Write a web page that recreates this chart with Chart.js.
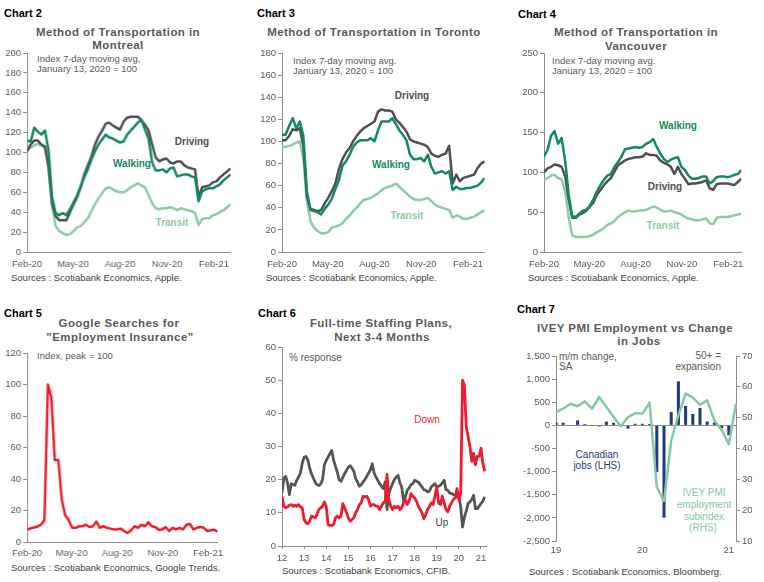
<!DOCTYPE html>
<html>
<head>
<meta charset="utf-8">
<script src="https://cdn.jsdelivr.net/npm/chart.js@4.4.1/dist/chart.umd.min.js"></script>
<style>
  body { margin: 0; background: #fff; }
  #page { position: relative; width: 764px; height: 582px; overflow: hidden; font-family: "Liberation Sans", Arial, sans-serif; }
  .box { position: absolute; }
  .t { position: absolute; white-space: nowrap; line-height: 1; }
  .c { transform: translate(-50%, -50%); }
  .l { transform: translate(0, -50%); }
  .r { transform: translate(-100%, -50%); }
  .num { font: bold 11px "Liberation Sans Narrow", "Liberation Sans", sans-serif; color: #000; }
  .ttl { font-weight: bold; font-size: 11.5px; letter-spacing: 0.45px; color: #595959; }
  .src { font-size: 9.5px; color: #404040; }
  .ann { font-size: 9.5px; color: #595959; }
  .lab { font-weight: bold; font-size: 10px; }
</style>
</head>
<body>
<div id="page">
  <!-- chart 2 -->
  <div class="t l num" style="left:4px;top:13px">Chart 2</div>
  <div class="t c ttl" style="left:118px;top:33px">Method of Transportation in</div>
  <div class="t c ttl" style="left:118px;top:46px">Montreal</div>
  <div class="t l ann" style="left:37px;top:59px">Index 7-day moving avg,</div>
  <div class="t l ann" style="left:37px;top:69px">January 13, 2020 = 100</div>
  <div class="t c lab" style="left:192px;top:142px;color:#505050">Driving</div>
  <div class="t c lab" style="left:132px;top:164px;color:#138a5b">Walking</div>
  <div class="t c lab" style="left:172px;top:223px;color:#8fcaa5">Transit</div>
  <div class="t l src" style="left:11px;top:278px">Sources : Scotiabank Economics, Apple.</div>
  <div class="box" id="w2"><canvas id="c2"></canvas></div>

  <!-- chart 3 -->
  <div class="t l num" style="left:257px;top:13px">Chart 3</div>
  <div class="t c ttl" style="left:374px;top:33px">Method of Transportation in Toronto</div>
  <div class="t l ann" style="left:293px;top:61px">Index 7-day moving avg.</div>
  <div class="t l ann" style="left:293px;top:71px">January 13, 2020 = 100</div>
  <div class="t c lab" style="left:412px;top:96px;color:#505050">Driving</div>
  <div class="t c lab" style="left:391px;top:165px;color:#138a5b">Walking</div>
  <div class="t c lab" style="left:407px;top:216px;color:#8fcaa5">Transit</div>
  <div class="t l src" style="left:266px;top:278px">Sources : Scotiabank Economics, Apple.</div>
  <div class="box" id="w3"><canvas id="c3"></canvas></div>

  <!-- chart 4 -->
  <div class="t l num" style="left:518px;top:14px">Chart 4</div>
  <div class="t c ttl" style="left:636px;top:33px">Method of Transportation in</div>
  <div class="t c ttl" style="left:636px;top:47px">Vancouver</div>
  <div class="t l ann" style="left:552px;top:61px">Index 7-day moving avg.</div>
  <div class="t l ann" style="left:552px;top:71px">January 13, 2020 = 100</div>
  <div class="t c lab" style="left:678px;top:126px;color:#138a5b">Walking</div>
  <div class="t c lab" style="left:665px;top:187px;color:#505050">Driving</div>
  <div class="t c lab" style="left:663px;top:226px;color:#8fcaa5">Transit</div>
  <div class="t l src" style="left:528px;top:278px">Sources : Scotiabank Economics, Apple.</div>
  <div class="box" id="w4"><canvas id="c4"></canvas></div>

  <!-- chart 5 -->
  <div class="t l num" style="left:4px;top:313px">Chart 5</div>
  <div class="t c ttl" style="left:119px;top:324px">Google Searches for</div>
  <div class="t c ttl" style="left:120px;top:338px">"Employment Insurance"</div>
  <div class="t l ann" style="left:37px;top:356px">Index, peak = 100</div>
  <div class="t l src" style="left:11px;top:568px">Sources : Scotiabank Economics, Google Trends.</div>
  <div class="box" id="w5"><canvas id="c5"></canvas></div>

  <!-- chart 6 -->
  <div class="t l num" style="left:258px;top:313px">Chart 6</div>
  <div class="t c ttl" style="left:381px;top:324px">Full-time Staffing Plans,</div>
  <div class="t c ttl" style="left:382px;top:338px">Next 3-4 Months</div>
  <div class="t l ann" style="left:289px;top:358px;font-size:10px">% response</div>
  <div class="t c ann" style="left:427px;top:420px;font-size:10px;color:#ee1c2e">Down</div>
  <div class="t c ann" style="left:442px;top:523px;font-size:10px;color:#404040">Up</div>
  <div class="t l src" style="left:282px;top:571px">Sources : Scotiabank Economics, CFIB.</div>
  <div class="box" id="w6"><canvas id="c6"></canvas></div>

  <!-- chart 7 -->
  <div class="t l num" style="left:517px;top:309px">Chart 7</div>
  <div class="t c ttl" style="left:635px;top:329px">IVEY PMI Employment vs Change</div>
  <div class="t c ttl" style="left:639px;top:342px">in Jobs</div>
  <div class="t l ann" style="left:559px;top:357px;font-size:10px">m/m change,</div>
  <div class="t l ann" style="left:559px;top:367px;font-size:10px">SA</div>
  <div class="t r ann" style="left:721px;top:356px;font-size:10px">50+ =</div>
  <div class="t r ann" style="left:721px;top:367px;font-size:10px">expansion</div>
  <div class="t c ann" style="left:597px;top:455px;font-size:10px;color:#1d3c78">Canadian</div>
  <div class="t c ann" style="left:597px;top:466px;font-size:10px;color:#1d3c78">jobs (LHS)</div>
  <div class="t c ann" style="left:704px;top:493px;font-size:10px;color:#86c7a0">IVEY PMI</div>
  <div class="t c ann" style="left:704px;top:505px;font-size:10px;color:#86c7a0">employment</div>
  <div class="t c ann" style="left:704px;top:517px;font-size:10px;color:#86c7a0">subindex</div>
  <div class="t c ann" style="left:703px;top:528px;font-size:10px;color:#86c7a0">(RHS)</div>
  <div class="t l src" style="left:529px;top:572px">Sources : Scotiabank Economics, Bloomberg.</div>
  <div class="box" id="w7"><canvas id="c7"></canvas></div>
</div>

<script>
// weekly readings, first point = 1 Feb 2020
const dateTicks = [0, 90, 182, 274, 366];
const dateTickLabels = ['Feb-20', 'May-20', 'Aug-20', 'Nov-20', 'Feb-21'];

const mtlDriving = [101,108,112,112,108,106,85,48,36,32,32,32,40,48,55,65,78,87,96,108,116,122,129,130,127,125,123,131,135,136,136,136,132,128,122,108,95,91,93,94,90,89,91,91,87,85,84,83,55,65,66,67,70,71,75,78,81,84];
const mtlWalking = [112,111,125,121,118,122,102,55,39,37,39,37,43,50,57,66,75,83,93,101,108,113,118,115,114,112,110,111,118,122,126,130,133,123,114,90,82,82,83,80,84,85,76,77,78,78,76,75,51,61,63,64,64,66,68,72,75,78];
const mtlTransit = [104,105,107,109,107,104,85,46,26,21,19,17,18,21,25,26,30,34,41,48,54,59,64,65,63,61,60,60,62,65,67,69,67,65,57,49,44,43,44,44,45,44,42,44,43,42,41,39,27,33,34,34,37,38,40,42,45,48];

const torDriving = [101,101,105,111,110,112,96,50,39,38,37,38,44,49,55,62,75,84,90,94,100,105,109,112,114,116,118,127,129,128,128,127,120,117,113,109,102,100,99,98,97,95,89,87,86,88,89,96,62,70,64,67,68,69,70,76,80,82];
const torWalking = [106,106,114,121,112,118,105,55,38,37,36,34,39,43,48,57,65,78,82,88,95,99,101,101,101,103,100,110,118,118,118,121,116,110,106,101,88,84,84,85,82,88,77,71,72,73,71,73,56,59,57,57,58,58,59,60,63,67];
const torTransit = [95,95,96,97,99,100,85,46,28,22,19,17,17,18,22,23,24,26,30,33,37,40,44,47,48,49,51,53,56,58,59,60,62,59,56,53,50,48,47,47,48,49,46,43,41,40,39,38,31,33,32,30,30,31,32,34,36,38];

const vanWalking = [120,128,146,152,136,143,115,72,45,44,48,52,53,58,66,76,84,91,96,98,107,113,120,129,130,131,132,131,132,136,138,142,132,124,117,113,116,118,119,107,103,96,92,92,93,95,95,86,89,94,95,95,94,95,97,98,103];
const vanDriving = [100,105,107,110,109,107,95,66,43,43,47,49,52,57,62,72,78,84,89,93,101,109,112,115,117,118,119,119,120,124,122,122,121,115,112,110,107,98,107,98,92,85,86,86,87,88,90,80,78,85,86,86,86,85,84,88,92];
const vanTransit = [91,93,96,97,93,91,76,44,21,19,19,19,19,20,22,25,27,30,34,36,39,44,47,50,52,51,51,52,52,53,55,57,56,53,51,51,52,50,49,47,44,42,41,40,40,41,42,36,35,43,44,44,44,45,46,47,48];

const googleEI = [7.8,8.7,9.2,9.8,11,14,100,92,52,52,27,17,14,9,9,10,10,11,9.5,10,13,9,10,9,8.5,8,8,8.5,7,5.7,7.4,10,9,11,10,12.5,10,9.5,7.8,8,9.5,7,9,8,9,8,11,11.5,8,9,9.5,9,7,7.5,7.8,6.5];

// monthly, Jan 2012 to Mar 2021
const staffYears = [2012, 2013, 2014, 2015, 2016, 2017, 2018, 2019, 2020, 2021];
const staffUp = [
  16,20.5,21,19,15.5,18.8,18.5,18.3,19.8,20.8,22,25,
  26.8,27,26,23.5,21.8,20.5,19.2,18.5,18.2,18.7,20,24.5,
  25.8,26.8,27.8,28.8,26,24,22.3,20,19.5,20.7,21.8,22.8,
  23.8,24.2,23.5,22.5,20.3,19.3,18,18.5,19.3,20,21,22,
  23,24.8,22,20.8,19.8,18.8,18,17.3,19.3,11,15.8,17.5,
  18.8,20,20.8,21.3,19,17.8,13.3,15,16.8,17.5,18.5,18.8,
  19.8,19.5,19.3,18.5,17.8,17,16.8,16.3,16.5,17.8,18.3,18.8,
  17.8,18,18.3,19,19.8,17,16.8,16,15.8,15.5,15.3,14.8,
  14.8,11.8,5.7,8.7,10.5,12.8,13.3,14,15.3,11.3,11.3,12,
  12.8,13.5,14.8];
const staffDown = [
  15,12,11.5,11.8,12.3,12.5,12,12.3,12,12.5,11.8,11.5,
  8,7,6.7,7.5,9,8.8,8.5,9.5,11,11.5,12,13.3,
  12,6.5,6.2,6.2,6.5,8.5,9,8.5,9,12.8,11.5,10,
  8.5,7.5,8,8.5,10,11,12.5,13,15,14.8,15,14,
  12,12.5,12.5,12,12,11,12,13,13.5,21.6,14,12,
  11,12,11.5,12,11,11.5,13,14,12.5,13.5,15.8,15,
  14.5,13.5,12,11,10,8.2,9.5,11,12,13,12.5,15,
  17.8,13,12.5,15,13,11,10.3,12,13,14,14.5,17.3,
  14,16,50,48.5,36,33,30,25.5,28,24.5,27,27,
  29.5,25,22.5];

const pmiMonths = ['Jan-19','Feb-19','Mar-19','Apr-19','May-19','Jun-19','Jul-19','Aug-19','Sep-19','Oct-19','Nov-19','Dec-19',
  'Jan-20','Feb-20','Mar-20','Apr-20','May-20','Jun-20','Jul-20','Aug-20','Sep-20','Oct-20','Nov-20','Dec-20','Jan-21','Feb-21'];
const jobsChange = [67,56,-7,107,28,-2,-24,81,54,-2,-71,35,34,30,-1011,-1994,290,953,419,246,378,84,62,-63,-213];
const iveyEmployment = [51.8,52.9,54.5,53.7,55.3,52.9,56.7,53.5,50.2,47.2,50.2,51.5,51.3,54.9,27.5,22.9,42.6,50.8,57.8,56.5,54.2,55.6,49.1,46.1,41.4,54.5];

const C = {
  driving: '#505050', walking: '#138a5b', transit: '#8fcaa5',
  red: '#ee1c2e', up: '#555555', navy: '#1d3c78', ivey: '#86c7a0', axis: '#8c8c8c'
};

Chart.defaults.font.family = '"Liberation Sans", Arial, sans-serif';
Chart.defaults.font.size = 9.5;
Chart.defaults.color = '#595959';
Chart.defaults.animation = false;
Chart.defaults.events = [];
Chart.defaults.plugins.legend.display = false;
Chart.defaults.plugins.tooltip.enabled = false;
Chart.defaults.elements.point.radius = 0;
Chart.defaults.elements.line.tension = 0;
Chart.defaults.elements.line.borderJoinStyle = 'round';

// size the wrapper so the plot area lands on l,t,r,b
function frame(id, g) {
  const wrap = document.getElementById(id);
  const pt = 8, pr = g.yr ? 0 : 6;
  wrap.style.left = (g.l - g.yw) + 'px';
  wrap.style.top = (g.t - pt) + 'px';
  wrap.style.width = (g.r - g.l + g.yw + (g.yr || 0) + pr) + 'px';
  wrap.style.height = (g.b - g.t + pt + g.xh) + 'px';
  return { top: pt, right: pr, bottom: 0, left: 0 };
}

function yAxis(g, min, max, step) {
  return {
    min: min, max: max,
    ticks: { stepSize: step, padding: 2 },
    grid: { drawOnChartArea: false, tickLength: 4, color: C.axis },
    border: { color: C.axis },
    afterFit: s => { s.width = g.yw; }
  };
}

function dateAxis(g, max, pad) {
  return {
    type: 'linear', min: 0, max: max,
    afterBuildTicks: s => { s.ticks = dateTicks.map(v => ({ value: v })); },
    ticks: { callback: v => dateTickLabels[dateTicks.indexOf(v)], padding: pad, maxRotation: 0, autoSkip: false },
    grid: { display: false, drawTicks: false },
    border: { color: C.axis },
    afterFit: s => { s.height = g.xh; }
  };
}

const weekly = arr => arr.map((v, i) => ({ x: i * 7, y: v }));

function line(label, arr, color, width) {
  return { label: label, data: weekly(arr), borderColor: color, borderWidth: width || 2.5 };
}

function transport(canvas, wrap, g, yMax, yStep, walk, drive, transit) {
  const pad = frame(wrap, g);
  new Chart(document.getElementById(canvas), {
    type: 'line',
    data: { datasets: [line('Walking', walk, C.walking), line('Driving', drive, C.driving), line('Transit', transit, C.transit)] },
    options: {
      responsive: true, maintainAspectRatio: false,
      layout: { padding: pad },
      scales: { x: dateAxis(g, (walk.length - 1) * 7, 7), y: yAxis(g, 0, yMax, yStep) }
    }
  });
}

transport('c2', 'w2', { l: 27, t: 53, r: 229.7, b: 252, yw: 27, xh: 20 }, 200, 20, mtlWalking, mtlDriving, mtlTransit);
transport('c3', 'w3', { l: 281.5, t: 53, r: 484.2, b: 252, yw: 27, xh: 20 }, 180, 20, torWalking, torDriving, torTransit);
transport('c4', 'w4', { l: 543.5, t: 53, r: 744.2, b: 252, yw: 27, xh: 20 }, 250, 50, vanWalking, vanDriving, vanTransit);

// chart 5
{
  const g = { l: 27, t: 353, r: 222.6, b: 542, yw: 27, xh: 20 };
  const pad = frame('w5', g);
  new Chart(document.getElementById('c5'), {
    type: 'line',
    data: { datasets: [line('Employment Insurance', googleEI, C.red, 2.5)] },
    options: {
      responsive: true, maintainAspectRatio: false,
      layout: { padding: pad },
      scales: { x: dateAxis(g, (googleEI.length - 1) * 7, 6), y: yAxis(g, 0, 120, 20) }
    }
  });
}

// chart 6
{
  const g = { l: 281.5, t: 347, r: 486, b: 546, yw: 27, xh: 20 };
  const pad = frame('w6', g);
  const monthly = arr => arr.map((v, i) => ({ x: staffYears[0] + i / 12, y: v }));
  new Chart(document.getElementById('c6'), {
    type: 'line',
    data: {
      datasets: [
        { label: 'Down', data: monthly(staffDown), borderColor: C.red, borderWidth: 2.8 },
        { label: 'Up', data: monthly(staffUp), borderColor: C.up, borderWidth: 2.8 }
      ]
    },
    options: {
      responsive: true, maintainAspectRatio: false,
      layout: { padding: pad },
      scales: {
        x: {
          type: 'linear', min: staffYears[0], max: 2021.25,
          afterBuildTicks: s => { s.ticks = staffYears.map(v => ({ value: v })); },
          ticks: { callback: v => String(v).slice(2), padding: 4, maxRotation: 0, autoSkip: false },
          grid: { drawOnChartArea: false, tickLength: 3, color: C.axis },
          border: { color: C.axis },
          afterFit: s => { s.height = g.xh; }
        },
        y: yAxis(g, 0, 60, 10)
      }
    }
  });
}

// chart 7
{
  const g = { l: 556, t: 356, r: 736, b: 541, yw: 48, yr: 28, xh: 20 };
  const pad = frame('w7', g);
  new Chart(document.getElementById('c7'), {
    data: {
      labels: pmiMonths,
      datasets: [
        { type: 'line', label: 'IVEY PMI employment subindex', data: iveyEmployment, yAxisID: 'y2',
          borderColor: C.ivey, borderWidth: 2.5, order: 0 },
        { type: 'bar', label: 'Canadian jobs', data: jobsChange, yAxisID: 'y',
          backgroundColor: C.navy, barPercentage: 0.42, categoryPercentage: 1, order: 1 }
      ]
    },
    options: {
      responsive: true, maintainAspectRatio: false,
      layout: { padding: pad },
      scales: {
        x: {
          type: 'category', offset: false,
          ticks: { callback: (v, i) => pmiMonths[i].startsWith('Jan') ? pmiMonths[i].slice(4) : '', padding: 4, maxRotation: 0, autoSkip: false },
          grid: { display: false, drawTicks: false },
          border: { display: false },
          afterFit: s => { s.height = g.xh; }
        },
        y: {
          position: 'left', min: -2500, max: 1500,
          ticks: { stepSize: 500, padding: 2, callback: v => v.toLocaleString('en-US') },
          grid: { color: c => c.tick.value === 0 ? C.axis : 'rgba(0,0,0,0)', tickColor: C.axis, tickLength: 4 },
          border: { color: C.axis },
          afterFit: s => { s.width = g.yw; }
        },
        y2: {
          position: 'right', min: 10, max: 70,
          ticks: { stepSize: 10, padding: 2 },
          grid: { drawOnChartArea: false, tickLength: 4, color: C.axis },
          border: { color: C.axis },
          afterFit: s => { s.width = g.yr; }
        }
      }
    }
  });
}
</script>
</body>
</html>
